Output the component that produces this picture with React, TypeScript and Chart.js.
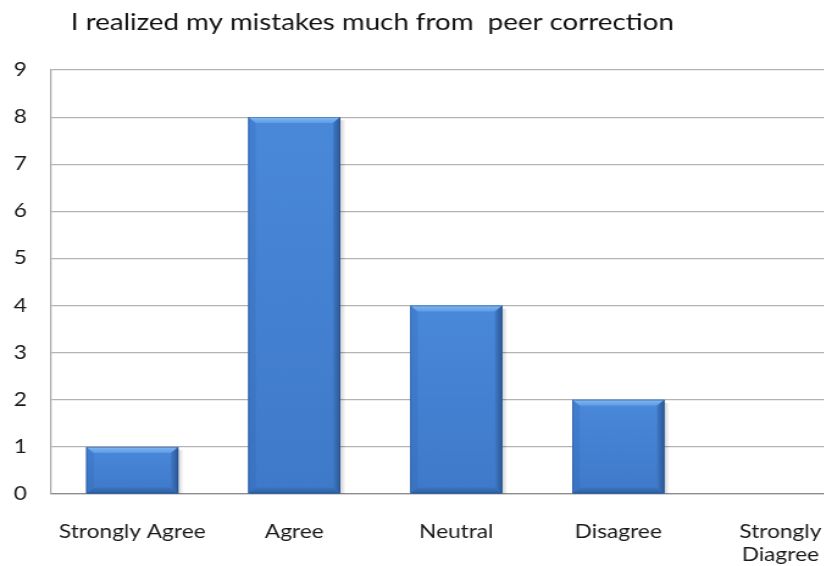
import React, { useEffect, useRef } from "react";
import { Chart, registerables } from "chart.js";

Chart.register(...registerables);

const TITLE = "I realized my mistakes much from  peer correction";
const CATEGORIES: (string | string[])[] = ["Strongly Agree", "Agree", "Neutral", "Disagree", ["Strongly", "Diagree"]];
const VALUES = [1, 8, 4, 2, 0];
const Y_MIN = 0;
const Y_MAX = 9;
const Y_STEP = 1;

const SX = 1.22; // horizontal stretch of the original picture
const VIEW_W = 824;
const VIEW_H = 566;
const CANVAS_W = 706;
const FONT = "Lato, 'Open Sans', sans-serif";

const barStylePlugin = {
  id: "barStyle",
  beforeDatasetsDraw(chart: any) {
    const ctx = chart.ctx;
    const meta = chart.getDatasetMeta(0);
    ctx.save();
    meta.data.forEach((el: any) => {
      const w = el.width;
      const l = el.x - w / 2;
      const t = Math.min(el.y, el.base);
      const h = Math.abs(el.base - el.y);
      if (h < 1) return;
      for (let i = 1; i <= 4; i++) {
        ctx.fillStyle = "rgba(0,0,0,0.045)";
        ctx.fillRect(l + i, t + 3, w, h - 3);
      }
    });
    ctx.restore();
  },
  afterDatasetsDraw(chart: any) {
    const ctx = chart.ctx;
    const meta = chart.getDatasetMeta(0);
    ctx.save();
    meta.data.forEach((el: any) => {
      const w = el.width;
      const l = el.x - w / 2;
      const r = el.x + w / 2;
      const t = Math.min(el.y, el.base);
      const bot = Math.max(el.y, el.base);
      const h = bot - t;
      if (h < 1) return;
      const b = Math.min(6, h / 2);
      // face gradient
      const g = ctx.createLinearGradient(0, t, 0, bot);
      g.addColorStop(0, "#4a88da");
      g.addColorStop(1, "#3f79c9");
      ctx.fillStyle = g;
      ctx.fillRect(l, t, w, h);
      // top bevel
      const gt = ctx.createLinearGradient(0, t, 0, t + b);
      gt.addColorStop(0, "#82b9f4");
      gt.addColorStop(1, "#5e9be4");
      ctx.fillStyle = gt;
      ctx.beginPath();
      ctx.moveTo(l, t); ctx.lineTo(r, t); ctx.lineTo(r - b, t + b); ctx.lineTo(l + b, t + b); ctx.closePath();
      ctx.fill();
      // left bevel
      ctx.fillStyle = "rgba(40,90,160,0.18)";
      ctx.beginPath();
      ctx.moveTo(l, t); ctx.lineTo(l + b, t + b); ctx.lineTo(l + b, bot - b); ctx.lineTo(l, bot); ctx.closePath();
      ctx.fill();
      // right bevel
      const gr = ctx.createLinearGradient(r - b, 0, r, 0);
      gr.addColorStop(0, "#3f79c6");
      gr.addColorStop(1, "#2b5894");
      ctx.fillStyle = gr;
      ctx.beginPath();
      ctx.moveTo(r, t); ctx.lineTo(r - b, t + b); ctx.lineTo(r - b, bot - b); ctx.lineTo(r, bot); ctx.closePath();
      ctx.fill();
      // bottom bevel
      const gb = ctx.createLinearGradient(0, bot - b, 0, bot);
      gb.addColorStop(0, "#3b74c1");
      gb.addColorStop(1, "#2f609f");
      ctx.fillStyle = gb;
      ctx.beginPath();
      ctx.moveTo(l, bot); ctx.lineTo(l + b, bot - b); ctx.lineTo(r - b, bot - b); ctx.lineTo(r, bot); ctx.closePath();
      ctx.fill();
      // outline
      ctx.strokeStyle = "rgba(35,75,135,0.55)";
      ctx.lineWidth = 0.8;
      ctx.strokeRect(l + 0.4, t + 0.4, w - 0.8, h - 0.8);
    });
    ctx.restore();
  },
};

const titlePlugin = {
  id: "leftTitle",
  afterDraw(chart: any) {
    const ctx = chart.ctx;
    ctx.save();
    ctx.font = `22.7px ${FONT}`;
    ctx.fillStyle = "#111";
    ctx.textBaseline = "middle";
    ctx.textAlign = "left";
    ctx.fillText(TITLE, 58, 23);
    ctx.restore();
  },
};

export default function App() {
  const ref = useRef<HTMLCanvasElement | null>(null);

  useEffect(() => {
    document.body.style.margin = "0";
    const canvas = ref.current!;
    const chart = new Chart(canvas, {
      type: "bar",
      data: {
        labels: CATEGORIES,
        datasets: [
          {
            data: VALUES,
            backgroundColor: "#4482d5",
            borderWidth: 0,
            barPercentage: 0.568,
            categoryPercentage: 1,
          },
        ],
      },
      options: {
        responsive: false,
        animation: false,
        devicePixelRatio: 1,
        layout: { padding: { top: 70, left: 0, right: 0, bottom: 0 } },
        plugins: {
          legend: { display: false },
          title: { display: false },
          tooltip: { enabled: false },
        },
        scales: {
          x: {
            afterFit: (s: any) => {
              s.height = 72;
            },
            grid: { display: false, drawTicks: false },
            border: { display: true, color: "#8c8c8c", width: 1.2 },
            ticks: {
              color: "#1a1a1a",
              padding: 26,
              maxRotation: 0,
              autoSkip: false,
              font: { family: FONT, size: 18.6, lineHeight: 1.25 },
            },
          },
          y: {
            min: Y_MIN,
            max: Y_MAX,
            afterFit: (s: any) => {
              s.width = 42;
            },
            grid: { color: "#b3b3b3", drawTicks: false, lineWidth: 1.2 },
            border: { display: true, color: "#a6a6a6", width: 1.2 },
            ticks: {
              stepSize: Y_STEP,
              color: "#1a1a1a",
              padding: 20,
              font: { family: FONT, size: 18.6 },
            },
          },
        },
      },
      plugins: [barStylePlugin, titlePlugin],
    });
    return () => chart.destroy();
  }, []);

  return (
    <div
      style={{
        position: "fixed",
        left: 0,
        top: 0,
        width: VIEW_W,
        height: VIEW_H,
        overflow: "hidden",
        background: "#fff",
      }}
    >
      <div style={{ transform: `scaleX(${SX})`, transformOrigin: "0 0", width: CANVAS_W, height: VIEW_H }}>
        <canvas ref={ref} width={CANVAS_W} height={VIEW_H} style={{ display: "block" }} />
      </div>
    </div>
  );
}
